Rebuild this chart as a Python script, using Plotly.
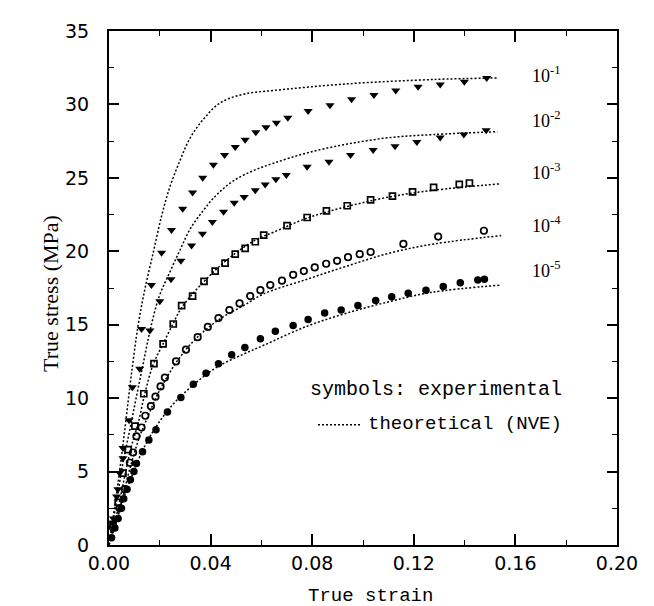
import plotly.graph_objects as go

# ---------------- data ----------------
rate_labels = ["10<sup>-1</sup>", "10<sup>-2</sup>", "10<sup>-3</sup>", "10<sup>-4</sup>", "10<sup>-5</sup>"]

# theoretical (NVE) curves: strain, stress (MPa)
th1_x = [0, 0.0029, 0.0049, 0.0068, 0.0088, 0.0115, 0.0141, 0.0174, 0.0207, 0.024, 0.028, 0.0319,
         0.0372, 0.0437, 0.053, 0.0648, 0.0938, 0.128, 0.153]
th1_y = [0, 3.4, 6.0, 8.7, 11.6, 15.0, 17.4, 19.9, 22.4, 24.4, 26.2, 27.7,
         29.0, 30.1, 30.7, 30.95, 31.4, 31.7, 31.8]

th2_x = [0, 0.0029, 0.0055, 0.0082, 0.0108, 0.0134, 0.0161, 0.0197, 0.024, 0.028, 0.0319, 0.0372,
         0.0424, 0.049, 0.0569, 0.0648, 0.078, 0.0938, 0.111, 0.128, 0.153]
th2_y = [0, 2.9, 5.6, 7.85, 10.1, 12.3, 14.55, 16.9, 18.6, 20.1, 21.5, 22.8,
         23.85, 24.8, 25.5, 26.0, 26.7, 27.3, 27.75, 27.95, 28.15]

th3_x = [0, 0.0036, 0.0062, 0.0088, 0.0115, 0.0141, 0.0174, 0.0213, 0.0253, 0.028, 0.0319, 0.0372,
         0.0424, 0.05, 0.058, 0.0648, 0.078, 0.0938, 0.111, 0.128, 0.1544]
th3_y = [0, 2.5, 4.7, 6.7, 8.3, 10.3, 12.3, 13.7, 15.1, 16.0, 16.9, 17.9,
         18.8, 19.9, 20.8, 21.3, 22.26, 23.05, 23.72, 24.16, 24.6]

th4_x = [0, 0.0049, 0.0082, 0.0121, 0.0147, 0.0187, 0.0227, 0.028, 0.0345, 0.0437, 0.053, 0.0609,
         0.078, 0.0938, 0.111, 0.128, 0.1544]
th4_y = [0, 2.9, 5.2, 7.4, 8.5, 10.1, 11.4, 12.8, 14.1, 15.4, 16.3, 17.1,
         18.1, 19.0, 19.9, 20.5, 21.07]

th5_x = [0, 0.0029, 0.0062, 0.0095, 0.0134, 0.0187, 0.0253, 0.0332, 0.0424, 0.053, 0.0609, 0.078,
         0.0938, 0.111, 0.1268, 0.1544]
th5_y = [0, 1.6, 3.4, 4.9, 6.5, 8.1, 9.6, 10.9, 12.1, 13.0, 13.6, 14.9,
         15.8, 16.6, 17.2, 17.7]

# experimental symbols
ex1_x = [0.0015, 0.0030, 0.0042, 0.0055, 0.0092, 0.0128, 0.0167, 0.0207, 0.0246, 0.029, 0.0329,
         0.0369, 0.0411, 0.0455, 0.0497, 0.0536, 0.0578, 0.0618, 0.0659, 0.0704, 0.0784, 0.087,
         0.0955, 0.1043, 0.1129, 0.1217, 0.1304, 0.1399, 0.1487]
ex1_y = [1.5, 3.3, 4.9, 6.6, 10.75, 14.7, 17.7, 19.9, 21.45, 22.9, 24.0,
         25.0, 25.9, 26.55, 27.1, 27.6, 28.1, 28.45, 28.75, 29.1, 29.55, 29.95,
         30.35, 30.65, 30.95, 31.2, 31.35, 31.55, 31.8]

ex2_x = [0.0018, 0.0035, 0.0055, 0.0079, 0.0121, 0.0161, 0.020, 0.0244, 0.0283, 0.0325, 0.0368,
         0.0407, 0.0451, 0.0493, 0.0532, 0.0576, 0.0615, 0.0657, 0.0698, 0.078, 0.0866, 0.0951,
         0.104, 0.1126, 0.1212, 0.1304, 0.1397, 0.1485]
ex2_y = [1.8, 3.8, 5.9, 8.5, 12.0, 14.6, 16.6, 18.1, 19.35, 20.4, 21.2,
         22.0, 22.7, 23.3, 23.7, 24.15, 24.55, 24.9, 25.2, 25.75, 26.1, 26.55,
         26.9, 27.15, 27.45, 27.75, 27.95, 28.25]

ex3_x = [0.0016, 0.0036, 0.0055, 0.0075, 0.0102, 0.0137, 0.0177, 0.0213, 0.0253, 0.0286, 0.0329,
         0.0374, 0.0418, 0.0457, 0.0497, 0.0536, 0.0576, 0.0609, 0.0701, 0.078, 0.0856, 0.0938,
         0.103, 0.1116, 0.1195, 0.1278, 0.1379, 0.1419]
ex3_y = [1.4, 2.9, 4.9, 6.5, 8.1, 10.3, 12.35, 13.7, 15.05, 16.3, 16.95,
         17.95, 18.65, 19.2, 19.8, 20.2, 20.65, 21.1, 21.75, 22.3, 22.75, 23.1,
         23.5, 23.75, 24.05, 24.35, 24.55, 24.65]

ex4_x = [0.0015, 0.0042, 0.0062, 0.0082, 0.0095, 0.0108, 0.0128, 0.0143, 0.0165, 0.0183, 0.0203,
         0.022, 0.0264, 0.0303, 0.0349, 0.0389, 0.0431, 0.0474, 0.0514, 0.0556, 0.0596, 0.0635,
         0.0681, 0.0725, 0.0767, 0.081, 0.0855, 0.0898, 0.0941, 0.0987, 0.103, 0.1159, 0.1296, 0.1476]
ex4_y = [1.2, 2.5, 3.8, 5.6, 6.3, 7.4, 8.0, 8.8, 9.45, 10.1, 10.8,
         11.4, 12.5, 13.3, 14.15, 14.85, 15.45, 16.0, 16.45, 16.95, 17.35, 17.7,
         18.0, 18.4, 18.65, 18.9, 19.15, 19.35, 19.6, 19.8, 19.95, 20.5, 21.0, 21.4]

ex5_x = [0.0010, 0.0023, 0.0036, 0.0049, 0.0058, 0.0071, 0.0084, 0.0098, 0.0108, 0.0132, 0.0157,
         0.0185, 0.023, 0.0283, 0.0332, 0.0382, 0.0431, 0.0483, 0.0535, 0.0596, 0.0655, 0.0725,
         0.0784, 0.0849, 0.0914, 0.098, 0.105, 0.1113, 0.1178, 0.1248, 0.1316, 0.1383, 0.1452, 0.1478]
ex5_y = [0.5, 1.15, 1.8, 2.5, 3.15, 3.8, 4.45, 5.0, 5.55, 6.35, 7.15,
         7.85, 9.05, 10.05, 10.95, 11.7, 12.35, 12.95, 13.45, 14.05, 14.55, 14.95,
         15.35, 15.8, 16.0, 16.3, 16.65, 16.9, 17.15, 17.35, 17.6, 17.85, 18.05, 18.1]

x_ticks = [0.00, 0.04, 0.08, 0.12, 0.16, 0.20]
y_ticks = [0, 5, 10, 15, 20, 25, 30, 35]

# ---------------- figure ----------------
fig = go.Figure()
DOT = "2px,2px"
for tx, ty in [(th1_x, th1_y), (th2_x, th2_y), (th3_x, th3_y), (th4_x, th4_y), (th5_x, th5_y)]:
    fig.add_trace(go.Scatter(x=tx, y=ty, mode="lines", line=dict(color="black", width=1.5, dash=DOT,
                                                                  shape="spline", smoothing=1.0),
                             showlegend=False, hoverinfo="skip"))

sym = [("triangle-down", 8, "black", 0), ("triangle-down", 8, "black", 0),
       ("square-open", 6, "black", 1.7), ("circle-open", 6.5, "black", 1.7), ("circle", 7.5, "black", 0)]
for (ex, ey), (s, sz, c, lw) in zip([(ex1_x, ex1_y), (ex2_x, ex2_y), (ex3_x, ex3_y), (ex4_x, ex4_y), (ex5_x, ex5_y)], sym):
    fig.add_trace(go.Scatter(x=ex, y=ey, mode="markers",
                             marker=dict(symbol=s, size=sz, color=c, line=dict(color="black", width=lw)),
                             showlegend=False))

L, R, T, B = 101, 609, 15, 537
W, H = 654, 606

def px(xp):
    return (xp - L) / (R - L)

def py(yp):
    return (B - yp) / (B - T)

label_y = [59, 105, 158, 212, 257]
for lab, yy in zip(rate_labels, label_y):
    fig.add_annotation(text=lab, x=px(522), y=py(yy), xref="paper", yref="paper", xanchor="left",
                       yanchor="middle", showarrow=False,
                       font=dict(family="Liberation Serif", size=18, color="black"))

mono = "Liberation Mono"
fig.add_annotation(text="symbols: experimental", x=px(556), y=py(379), xref="paper", yref="paper",
                   xanchor="right", yanchor="middle", showarrow=False,
                   font=dict(family=mono, size=20, color="black"))
fig.add_annotation(text="theoretical (NVE)", x=px(556), y=py(414), xref="paper", yref="paper",
                   xanchor="right", yanchor="middle", showarrow=False,
                   font=dict(family=mono, size=19, color="black"))
fig.add_shape(type="line", x0=px(310), x1=px(352), y0=py(415), y1=py(415), xref="paper", yref="paper",
              line=dict(color="black", width=1.5, dash=DOT))

fig.add_annotation(text="True strain", x=px(362), y=py(589), xref="paper", yref="paper",
                   xanchor="center", yanchor="middle", showarrow=False,
                   font=dict(family=mono, size=19, color="black"))
fig.add_annotation(text="True stress (MPa)", x=px(43), y=py(282), xref="paper", yref="paper",
                   xanchor="center", yanchor="middle", textangle=-90, showarrow=False,
                   font=dict(family="Liberation Serif", size=22, color="black"))

tickfont = dict(family="DejaVu Sans", size=19, color="black")
fig.update_xaxes(range=[0, 0.2], tickvals=x_ticks, ticktext=[f"{v:.2f}" for v in x_ticks],
                 ticks="inside", ticklen=11, tickwidth=1.5, tickcolor="black",
                 minor=dict(dtick=0.02, ticks="inside", ticklen=5, tickwidth=1.2, tickcolor="black"),
                 showline=True, linecolor="black", linewidth=2, mirror="allticks",
                 showgrid=False, zeroline=False, tickfont=tickfont, ticklabelstandoff=0)
fig.update_yaxes(range=[0, 35], tickvals=y_ticks, ticks="inside", ticklen=10, tickwidth=1.5, tickcolor="black",
                 minor=dict(dtick=2.5, ticks="inside", ticklen=5, tickwidth=1.2, tickcolor="black"),
                 showline=True, linecolor="black", linewidth=2, mirror="allticks",
                 showgrid=False, zeroline=False, tickfont=tickfont, ticklabelstandoff=14)

fig.update_layout(width=W, height=H, margin=dict(l=L, r=W - R, t=T, b=H - B),
                  plot_bgcolor="white", paper_bgcolor="white", showlegend=False)

fig.write_html("out.html")
